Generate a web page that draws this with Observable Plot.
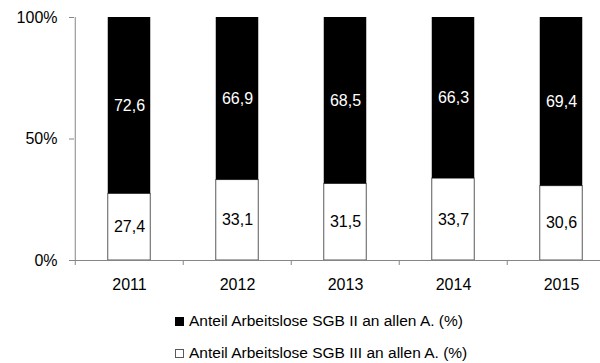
<!DOCTYPE html>
<html>
<head>
<meta charset="utf-8">
<script src="https://cdn.jsdelivr.net/npm/d3@7"></script>
<script src="https://cdn.jsdelivr.net/npm/@observablehq/plot@0.6"></script>
<style>
  html, body { margin: 0; padding: 0; background: #fff; overflow: hidden; }
  #chart { width: 600px; height: 363px; position: relative; font-family: "Liberation Sans", Arial, sans-serif; }
  .legend { padding-left: 175px; font-size: 15.5px; line-height: 31.5px; color: #000; white-space: nowrap; }
  .legend .sw { display: inline-block; width: 9px; height: 9px; margin-right: 5px; vertical-align: 0px; box-sizing: border-box; }
</style>
</head>
<body>
<div id="chart"></div>
<script>
const years = ["2011", "2012", "2013", "2014", "2015"];
const sgb2 = [72.6, 66.9, 68.5, 66.3, 69.4];
const sgb3 = [27.4, 33.1, 31.5, 33.7, 30.6];
const yTicks = [0, 50, 100];
const seriesLabels = ["Anteil Arbeitslose SGB II an allen A. (%)", "Anteil Arbeitslose SGB III an allen A. (%)"];

const rows = years.map((y, i) => ({year: y, sgb2: sgb2[i], sgb3: sgb3[i]}));
const fmt = v => v.toFixed(1).replace(".", ",");

const xRange = [74, 616.5];
const step = (xRange[1] - xRange[0]) / years.length;
const barInset = (step - 43) / 2;
const axisGray = "#868686";
const fs = 16;

const plot = Plot.plot({
  width: 600,
  height: 305,
  marginLeft: 74,
  marginRight: 0,
  marginTop: 17,
  marginBottom: 45,
  style: {fontFamily: '"Liberation Sans", Arial, sans-serif', fontSize: fs + "px", color: "#000", background: "#fff", overflow: "hidden"},
  x: {type: "band", domain: years, range: xRange, padding: 0},
  y: {domain: [0, 100]},
  marks: [
    Plot.barY(rows, {x: "year", y1: 0, y2: "sgb3", fill: "white", stroke: "#595959", strokeWidth: 1, insetLeft: barInset, insetRight: barInset}),
    Plot.barY(rows, {x: "year", y1: "sgb3", y2: 100, fill: "black", insetLeft: barInset, insetRight: barInset}),
    Plot.text(rows, {x: "year", y: d => d.sgb3 / 2, text: d => fmt(d.sgb3), fill: "#000", fontSize: fs}),
    Plot.text(rows, {x: "year", y: d => d.sgb3 + d.sgb2 / 2, text: d => fmt(d.sgb2), fill: "#fff", fontSize: fs}),
    Plot.ruleY([0], {stroke: axisGray}),
    Plot.ruleX([years[0]], {x: d => d, dx: -step / 2, y1: 0, y2: 100, stroke: axisGray}),
    Plot.axisX({tickSize: 5, dx: -step / 2, text: null, stroke: axisGray, label: null}),
    Plot.axisX({tickSize: 0, tickPadding: 18, label: null, fontSize: fs}),
    Plot.axisY({ticks: yTicks, tickFormat: d => d + "%", tickSize: 5, tickPadding: 12, stroke: axisGray, fill: "#000", label: null, fontSize: fs})
  ]
});

const chart = document.getElementById("chart");
chart.appendChild(plot);

const legend = document.createElement("div");
legend.className = "legend";
legend.innerHTML = seriesLabels.map((t, i) =>
  `<div><span class="sw" style="background:${i === 0 ? "#000" : "#fff"};border:1px solid ${i === 0 ? "#000" : "#595959"}"></span>${t}</div>`
).join("");
chart.appendChild(legend);
</script>
</body>
</html>
